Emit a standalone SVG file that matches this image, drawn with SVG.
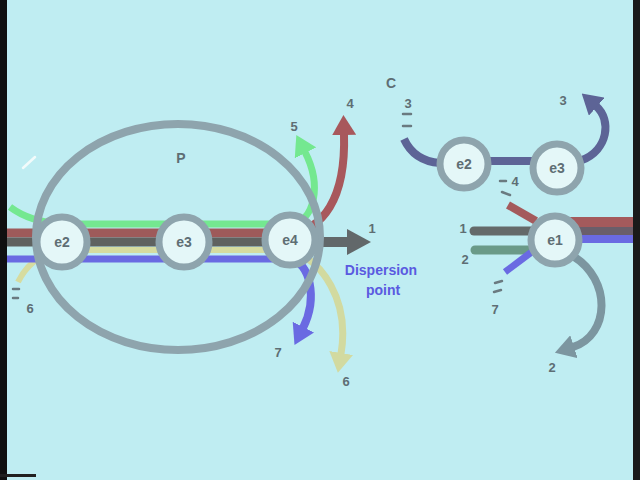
<svg xmlns="http://www.w3.org/2000/svg" width="640" height="480" viewBox="0 0 640 480">
<defs>
<style>
.bg{fill:#bfedf2}
.node{fill:#e4f7f8;stroke:#8ea4ad;stroke-width:7}
.lbl{font-family:"Liberation Sans",Arial,sans-serif;font-weight:bold;font-size:14px;fill:#5e6e74;text-anchor:middle}
.num{font-family:"Liberation Sans",Arial,sans-serif;font-weight:bold;font-size:13px;fill:#5e6e74;text-anchor:middle}
.disp{font-family:"Liberation Sans",Arial,sans-serif;font-weight:bold;font-size:14px;fill:#5a5ae0;text-anchor:middle}
.band{fill:none;stroke-linecap:butt}
.dash{stroke:#6a7a80;stroke-width:2.5;stroke-linecap:round}
</style>
<marker id="hRed" viewBox="0 0 20 24" refX="1" refY="12" markerWidth="20" markerHeight="24" markerUnits="userSpaceOnUse" orient="auto"><path d="M0,0 L20,12 L0,24 z" fill="#a8585c"/></marker>
<marker id="hGreen" viewBox="0 0 20 24" refX="1" refY="12" markerWidth="20" markerHeight="24" markerUnits="userSpaceOnUse" orient="auto"><path d="M0,0 L20,12 L0,24 z" fill="#74e890"/></marker>
<marker id="hBlue" viewBox="0 0 20 24" refX="1" refY="12" markerWidth="20" markerHeight="24" markerUnits="userSpaceOnUse" orient="auto"><path d="M0,0 L20,12 L0,24 z" fill="#6a6ae2"/></marker>
<marker id="hYellow" viewBox="0 0 20 24" refX="1" refY="12" markerWidth="20" markerHeight="24" markerUnits="userSpaceOnUse" orient="auto"><path d="M0,0 L20,12 L0,24 z" fill="#d2daa0"/></marker>
<marker id="hDark" viewBox="0 0 24 26" refX="1" refY="13" markerWidth="24" markerHeight="26" markerUnits="userSpaceOnUse" orient="auto"><path d="M0,0 L24,13 L0,26 z" fill="#62686a"/></marker>
<marker id="hSlate" viewBox="0 0 20 24" refX="1" refY="12" markerWidth="20" markerHeight="24" markerUnits="userSpaceOnUse" orient="auto"><path d="M0,0 L20,12 L0,24 z" fill="#5d6496"/></marker>
<marker id="hGray" viewBox="0 0 20 24" refX="1" refY="12" markerWidth="20" markerHeight="24" markerUnits="userSpaceOnUse" orient="auto"><path d="M0,0 L20,12 L0,24 z" fill="#7c96a0"/></marker>
</defs>
<rect class="bg" x="0" y="0" width="640" height="480"/>
<rect x="0" y="0" width="7" height="480" fill="#101010"/>
<rect x="633" y="0" width="7" height="480" fill="#1a1a1a"/>
<rect x="0" y="474" width="36" height="3" fill="#202020"/>
<line x1="23" y1="168" x2="35" y2="157" stroke="#f2fbfb" stroke-width="2.5" stroke-linecap="round"/>

<g id="connectors">
  <path class="band" d="M10 207 Q30 222 62 224 L290 224" stroke="#74e890" stroke-width="7"/>
  <path class="band" d="M7 233 L290 233" stroke="#9e5a5a" stroke-width="9"/>
  <path class="band" d="M7 242 L290 242" stroke="#5f6260" stroke-width="9"/>
  <path class="band" d="M18 282 Q32 254 62 250 L290 250" stroke="#d6dca0" stroke-width="6"/>
  <path class="band" d="M7 259 L290 259" stroke="#6a6ae2" stroke-width="7"/>
  <path class="band" d="M290 224 C315 222 322 185 305 152" stroke="#74e890" stroke-width="7" marker-end="url(#hGreen)"/>
  <path class="band" d="M290 233 C322 230 346 200 344 134" stroke="#a8585c" stroke-width="8" marker-end="url(#hRed)"/>
  <path class="band" d="M290 242 L348 242" stroke="#62686a" stroke-width="10" marker-end="url(#hDark)"/>
  <path class="band" d="M290 259 C310 262 318 298 303 328" stroke="#6a6ae2" stroke-width="8" marker-end="url(#hBlue)"/>
  <path class="band" d="M290 250 C322 260 350 300 341 354" stroke="#d2daa0" stroke-width="7" marker-end="url(#hYellow)"/>
  <path class="band" d="M404 139 Q414 161 440 163" stroke="#5d6496" stroke-width="8"/>
  <path class="band" d="M488 161 L533 161" stroke="#5d6496" stroke-width="8"/>
  <path class="band" d="M582 160 C608 150 612 120 596 106" stroke="#5d6496" stroke-width="8" marker-end="url(#hSlate)"/>
  <path class="band" d="M555 222 L633 222" stroke="#a45a5c" stroke-width="10"/>
  <path class="band" d="M555 231 L633 231" stroke="#6a5e6a" stroke-width="8"/>
  <path class="band" d="M555 239 L633 239" stroke="#6a6ae2" stroke-width="8"/>
  <path class="band" d="M508 205 L536 221" stroke="#a45a5c" stroke-width="8"/>
  <path d="M474 231 L533 231" stroke="#646a6a" stroke-width="9" stroke-linecap="round" fill="none"/>
  <path d="M475 250 L533 250" stroke="#6a9a88" stroke-width="9" stroke-linecap="round" fill="none"/>
  <path class="band" d="M505 272 L533 251" stroke="#6a6ae2" stroke-width="7"/>
  <path class="band" d="M573 256 C612 280 610 335 573 347" stroke="#7c96a0" stroke-width="8" marker-end="url(#hGray)"/>
</g>

<g id="P">
  <ellipse cx="178" cy="237" rx="142" ry="113" fill="none" stroke="#8ea4ad" stroke-width="8"/>
  <text class="lbl" x="181" y="163">P</text>
</g>
<g id="P-e2"><circle class="node" cx="62" cy="242" r="25"/><text class="lbl" x="62" y="247">e2</text></g>
<g id="P-e3"><circle class="node" cx="184" cy="242" r="25"/><text class="lbl" x="184" y="247">e3</text></g>
<g id="P-e4"><circle class="node" cx="290" cy="240" r="25"/><text class="lbl" x="290" y="245">e4</text></g>

<g id="C">
  <text class="lbl" x="391" y="88">C</text>
</g>
<g id="C-e2"><circle class="node" cx="464" cy="164" r="24"/><text class="lbl" x="464" y="169">e2</text></g>
<g id="C-e3"><circle class="node" cx="557" cy="168" r="24"/><text class="lbl" x="557" y="173">e3</text></g>
<g id="C-e1"><circle class="node" cx="555" cy="240" r="24"/><text class="lbl" x="555" y="245">e1</text></g>

<g id="labels">
  <text class="num" x="294" y="131">5</text>
  <text class="num" x="350" y="108">4</text>
  <text class="num" x="372" y="233">1</text>
  <text class="num" x="278" y="357">7</text>
  <text class="num" x="346" y="386">6</text>
  <text class="num" x="30" y="313">6</text>
  <line class="dash" x1="13" y1="289" x2="19" y2="289"/>
  <line class="dash" x1="13" y1="298" x2="18" y2="298"/>
  <text class="disp" x="381" y="275">Dispersion</text>
  <text class="disp" x="383" y="295">point</text>
  <text class="num" x="408" y="108">3</text>
  <line class="dash" x1="403" y1="114" x2="411" y2="114"/>
  <line class="dash" x1="403" y1="126" x2="411" y2="126"/>
  <text class="num" x="563" y="105">3</text>
  <line class="dash" x1="500" y1="181" x2="506" y2="181"/>
  <text class="num" x="515" y="186">4</text>
  <line class="dash" x1="502" y1="192" x2="510" y2="195"/>
  <text class="num" x="463" y="233">1</text>
  <text class="num" x="465" y="264">2</text>
  <line class="dash" x1="495" y1="283" x2="502" y2="281"/>
  <line class="dash" x1="494" y1="292" x2="501" y2="290"/>
  <text class="num" x="495" y="314">7</text>
  <text class="num" x="552" y="372">2</text>
</g>
</svg>
